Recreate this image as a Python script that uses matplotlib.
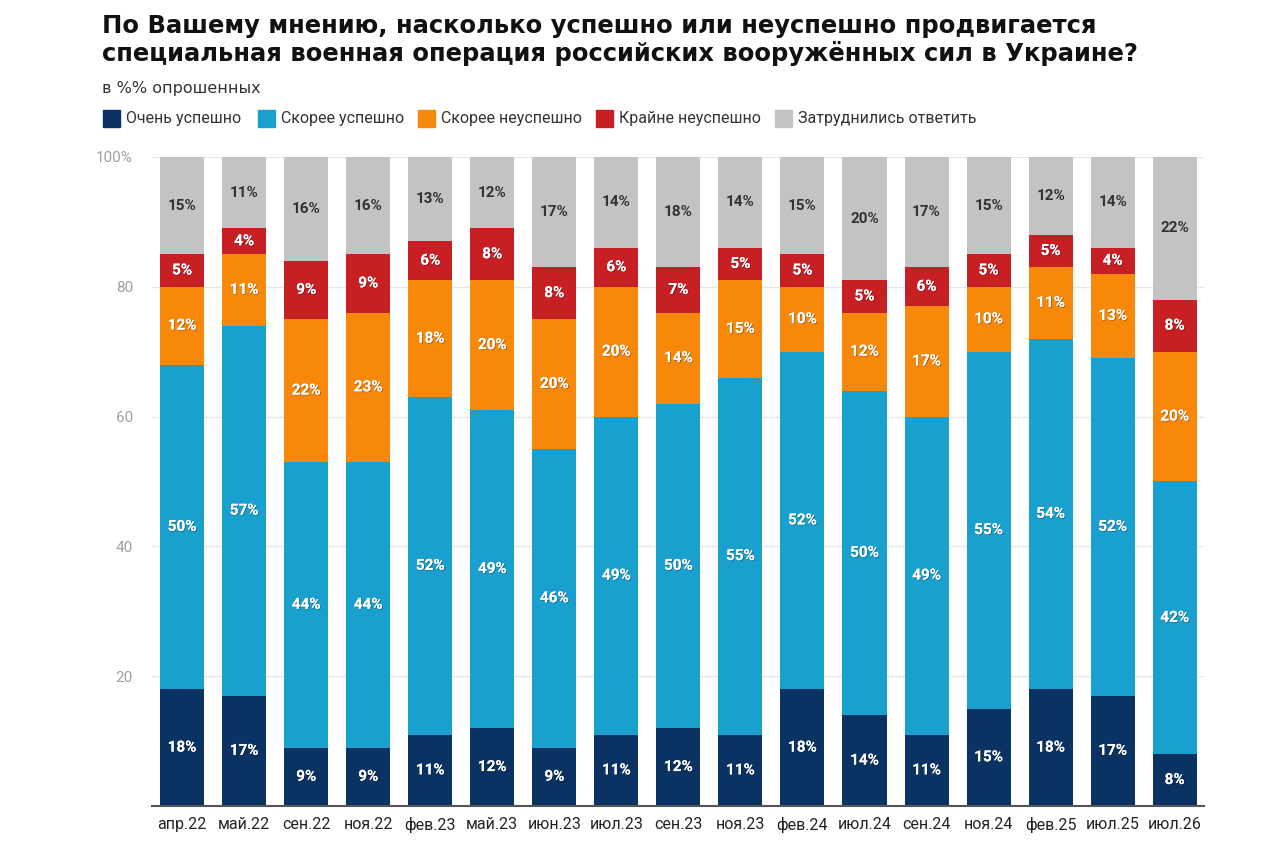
import numpy as np
import matplotlib
matplotlib.use('Agg')
import matplotlib.pyplot as plt
import matplotlib.patheffects as pe
from matplotlib.patches import Rectangle

plt.rcParams['font.family'] = ['Roboto', 'DejaVu Sans']

# survey waves
waves = ['апр.22', 'май.22', 'сен.22', 'ноя.22', 'фев.23', 'май.23', 'июн.23', 'июл.23', 'сен.23',
         'ноя.23', 'фев.24', 'июл.24', 'сен.24', 'ноя.24', 'фев.25', 'июл.25', 'июл.26']

very_success = [18, 17, 9, 9, 11, 12, 9, 11, 12, 11, 18, 14, 11, 15, 18, 17, 8]
rather_success = [50, 57, 44, 44, 52, 49, 46, 49, 50, 55, 52, 50, 49, 55, 54, 52, 42]
rather_fail = [12, 11, 22, 23, 18, 20, 20, 20, 14, 15, 10, 12, 17, 10, 11, 13, 20]
very_fail = [5, 4, 9, 9, 6, 8, 8, 6, 7, 5, 5, 5, 6, 5, 5, 4, 8]
hard_to_say = [15, 11, 16, 16, 13, 12, 17, 14, 18, 14, 15, 20, 17, 15, 12, 14, 22]

series_names = ['Очень успешно', 'Скорее успешно', 'Скорее неуспешно', 'Крайне неуспешно',
                'Затруднились ответить']
colors = ['#0a3262', '#19a0ce', '#f8880a', '#c81f25', '#c3c3c3']
series = [very_success, rather_success, rather_fail, very_fail, hard_to_say]

fig = plt.figure(figsize=(12.8, 8.48), dpi=100)
ax = fig.add_axes([0.119, 0.0495, 0.822, 0.7655])

x = np.arange(len(waves))
bottom = np.zeros(len(waves))
shadow = [pe.withSimplePatchShadow(offset=(0.6, -0.6), shadow_rgbFace='black', alpha=0.35), pe.Normal()]
for vals, col, name in zip(series, colors, series_names):
    vals = np.array(vals, dtype=float)
    ax.bar(x, vals, bottom=bottom, width=0.71, color=col, label=name, zorder=2)
    for xi, b, v in zip(x, bottom, vals):
        top = min(b + v, 100)
        yc = (b + top) / 2
        if col == '#c3c3c3':
            ax.text(xi, yc, f'{int(v)}%', ha='center', va='center', fontsize=11,
                    fontweight='bold', color='#333333', zorder=3)
        else:
            ax.text(xi, yc, f'{int(v)}%', ha='center', va='center', fontsize=11,
                    fontweight='bold', color='white', zorder=3, path_effects=shadow)
    bottom += vals

ax.set_xlim(-0.48, len(waves) - 0.52)
ax.set_ylim(0, 100)
ax.set_yticks([20, 40, 60, 80, 100])
ax.set_yticklabels(['20', '40', '60', '80', '100%'])
ax.set_xticks(x)
ax.set_xticklabels(waves)
ax.tick_params(axis='y', length=0, pad=14, labelsize=11, labelcolor='#a0a0a0')
ax.tick_params(axis='x', length=0, pad=8, labelsize=11.5, labelcolor='#222222')
ax.grid(axis='y', color='#e6e6e6', linewidth=1, zorder=0)
for s in ['top', 'right', 'left']:
    ax.spines[s].set_visible(False)
ax.spines['bottom'].set_color('#555555')
ax.spines['bottom'].set_linewidth(1.5)
ax.spines['bottom'].set_zorder(4)

# title block
fig.text(0.080, 0.983, 'По Вашему мнению, насколько успешно или неуспешно продвигается\n'
         'специальная военная операция российских вооружённых сил в Украине?',
         ha='left', va='top', fontsize=17.5, fontweight='bold', color='#111111',
         linespacing=1.12, family=['DejaVu Sans'])
fig.text(0.080, 0.896, 'в %% опрошенных', ha='left', va='center', fontsize=11.5, color='#333333',
         family=['DejaVu Sans'])

# legend row
leg_x = [103, 258, 418, 596, 775]
for lx, col, name in zip(leg_x, colors, series_names):
    fig.patches.append(Rectangle((lx / 1280, (848 - 127) / 848), 17 / 1280, 17 / 848,
                                 transform=fig.transFigure, color=col, figure=fig))
    fig.text((lx + 23) / 1280, (848 - 118) / 848, name, ha='left', va='center',
             fontsize=11.5, color='#333333')

fig.savefig('out.png', dpi=100)
